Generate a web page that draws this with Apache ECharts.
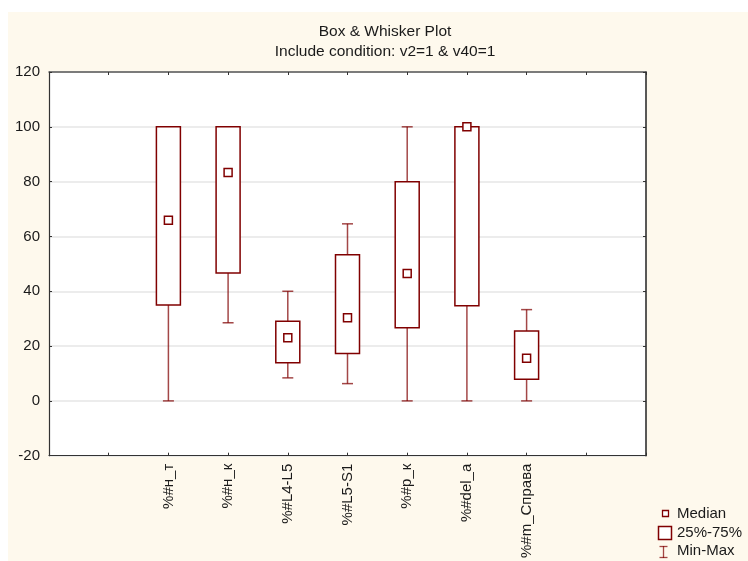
<!DOCTYPE html>
<html>
<head>
<meta charset="utf-8">
<script src="https://cdn.jsdelivr.net/npm/echarts@6/dist/echarts.min.js"></script>
<style>
  html, body { margin: 0; padding: 0; background: #ffffff; }
  #wrap { position: relative; width: 748px; height: 561px; overflow: hidden; }
  #panel { position: absolute; left: 8px; top: 12px; right: 0; bottom: 0; background: #fef9ed; }
  #chart { position: absolute; left: 0; top: 0; width: 748px; height: 561px; }
</style>
</head>
<body>
<div id="wrap">
  <div id="panel"></div>
  <div id="chart"></div>
</div>
<script>
// Variables on the category axis
const categories = ['%#н_т', '%#н_к', '%#L4-L5', '%#L5-S1', '%#р_к', '%#del_a', '%#m_Справа'];
// Summary statistics per variable
const minVals    = [0,    28.5, 8.4,  6.3,  0,    0,    0];
const q1Vals     = [35.0, 46.7, 13.9, 17.3, 26.7, 34.7, 7.9];
const medianVals = [65.9, 83.3, 23.0, 30.3, 46.5, 100,  15.6];
const q3Vals     = [100,  100,  29.1, 53.3, 80.0, 100,  25.5];
const maxVals    = [100,  100,  40.0, 64.6, 100,  100,  33.3];
// Value axis ticks
const yTicks = [-20, 0, 20, 40, 60, 80, 100, 120];

const title = 'Box & Whisker Plot';
const subtitle = 'Include condition: v2=1 & v40=1';
const legendLabels = ['Median', '25%-75%', 'Min-Max'];

// Empty slots on either side of the variables
const padLeft = 2, padRight = 2;
const axisData = [];
for (let i = 0; i < padLeft; i++) axisData.push('');
categories.forEach(c => axisData.push(c));
for (let i = 0; i < padRight; i++) axisData.push('');

const boxData = categories.map((c, i) => [
  i + padLeft, minVals[i], q1Vals[i], medianVals[i], q3Vals[i], maxVals[i]
]);

const FONT = '"Liberation Sans", Arial, sans-serif';
const DARK_RED = '#800000';
const WHISKER = 'rgba(128,0,0,0.72)';

function renderBox(params, api) {
  const x = api.value(0);
  const pMin = api.coord([x, api.value(1)]);
  const pQ1 = api.coord([x, api.value(2)]);
  const pMed = api.coord([x, api.value(3)]);
  const pQ3 = api.coord([x, api.value(4)]);
  const pMax = api.coord([x, api.value(5)]);
  const cx = pQ1[0];
  const boxW = 24, capW = 11, medS = 8;
  const wStyle = { stroke: WHISKER, lineWidth: 1.5 };
  return {
    type: 'group',
    children: [
      { type: 'line', shape: { x1: cx, y1: pQ1[1], x2: cx, y2: pMin[1] }, style: wStyle },
      { type: 'line', shape: { x1: cx, y1: pQ3[1], x2: cx, y2: pMax[1] }, style: wStyle },
      { type: 'line', shape: { x1: cx - capW / 2, y1: pMin[1], x2: cx + capW / 2, y2: pMin[1] }, style: wStyle },
      { type: 'line', shape: { x1: cx - capW / 2, y1: pMax[1], x2: cx + capW / 2, y2: pMax[1] }, style: wStyle },
      { type: 'rect', shape: { x: cx - boxW / 2, y: pQ3[1], width: boxW, height: pQ1[1] - pQ3[1] },
        style: { fill: '#ffffff', stroke: DARK_RED, lineWidth: 1.5 } },
      { type: 'rect', shape: { x: cx - medS / 2, y: pMed[1] - medS / 2, width: medS, height: medS },
        style: { fill: '#ffffff', stroke: DARK_RED, lineWidth: 1.5 } }
    ]
  };
}

const chart = echarts.init(document.getElementById('chart'), null, { renderer: 'canvas' });

const axisLineStyle = { color: '#333333', width: 1.2 };

chart.setOption({
  animation: false,
  backgroundColor: 'transparent',
  grid: { left: 49, right: 102, top: 72, bottom: 104, show: true, backgroundColor: '#ffffff', borderWidth: 0 },
  xAxis: [
    {
      type: 'category', data: axisData, boundaryGap: false, position: 'bottom',
      axisLine: { show: true, onZero: false, lineStyle: axisLineStyle },
      axisTick: { show: true, inside: true, length: 3, interval: 0, lineStyle: { color: '#333' } },
      axisLabel: { interval: 0, rotate: 90, margin: 8, fontSize: 15, color: '#1a1a1a', fontFamily: FONT },
      splitLine: { show: false }
    },
    {
      type: 'category', data: axisData, boundaryGap: false, position: 'top',
      axisLine: { show: true, onZero: false, lineStyle: { color: '#555555', width: 1.5 } },
      axisTick: { show: true, inside: true, length: 3, interval: 0, lineStyle: { color: '#333' } },
      axisLabel: { show: false },
      splitLine: { show: false }
    }
  ],
  yAxis: [
    {
      type: 'value', min: yTicks[0], max: yTicks[yTicks.length - 1], interval: 20, position: 'left',
      axisLine: { show: true, onZero: false, lineStyle: axisLineStyle },
      axisTick: { show: true, inside: true, length: 3, lineStyle: { color: '#333' } },
      axisLabel: { margin: 9, fontSize: 15, color: '#1a1a1a', fontFamily: FONT },
      splitLine: { show: true, lineStyle: { color: '#e6e6e6', width: 1.5 } }
    },
    {
      type: 'value', min: yTicks[0], max: yTicks[yTicks.length - 1], interval: 20, position: 'right',
      axisLine: { show: true, onZero: false, lineStyle: { color: '#222222', width: 1.5 } },
      axisTick: { show: true, inside: true, length: 3, lineStyle: { color: '#333' } },
      axisLabel: { show: false },
      splitLine: { show: false }
    }
  ],
  series: [
    {
      type: 'custom',
      name: 'Box & Whisker',
      xAxisIndex: 0, yAxisIndex: 0,
      data: boxData,
      encode: { x: 0, y: [1, 2, 3, 4, 5] },
      renderItem: renderBox,
      z: 5
    }
  ],
  graphic: [
    { type: 'text', x: 385, y: 32,
      style: { text: title, fill: '#1a1a1a', font: '15.5px ' + FONT, align: 'center', verticalAlign: 'middle' } },
    { type: 'text', x: 385, y: 51.5,
      style: { text: subtitle, fill: '#1a1a1a', font: '15.5px ' + FONT, align: 'center', verticalAlign: 'middle' } },
    // legend: median marker
    { type: 'rect', shape: { x: 662.5, y: 510.5, width: 6, height: 6 },
      style: { fill: '#ffffff', stroke: DARK_RED, lineWidth: 1.3 } },
    { type: 'text', x: 677, y: 514,
      style: { text: legendLabels[0], fill: '#1a1a1a', font: '15px ' + FONT, align: 'left', verticalAlign: 'middle' } },
    // legend: box
    { type: 'rect', shape: { x: 658.5, y: 526.5, width: 13, height: 13 },
      style: { fill: '#ffffff', stroke: DARK_RED, lineWidth: 1.5 } },
    { type: 'text', x: 677, y: 533,
      style: { text: legendLabels[1], fill: '#1a1a1a', font: '15px ' + FONT, align: 'left', verticalAlign: 'middle' } },
    // legend: whisker
    { type: 'line', shape: { x1: 663.5, y1: 546, x2: 663.5, y2: 558 }, style: { stroke: WHISKER, lineWidth: 1.3 } },
    { type: 'line', shape: { x1: 659.5, y1: 546.5, x2: 667.5, y2: 546.5 }, style: { stroke: WHISKER, lineWidth: 1.3 } },
    { type: 'line', shape: { x1: 659.5, y1: 557.5, x2: 667.5, y2: 557.5 }, style: { stroke: WHISKER, lineWidth: 1.3 } },
    { type: 'text', x: 677, y: 551,
      style: { text: legendLabels[2], fill: '#1a1a1a', font: '15px ' + FONT, align: 'left', verticalAlign: 'middle' } }
  ]
});
</script>
</body>
</html>
